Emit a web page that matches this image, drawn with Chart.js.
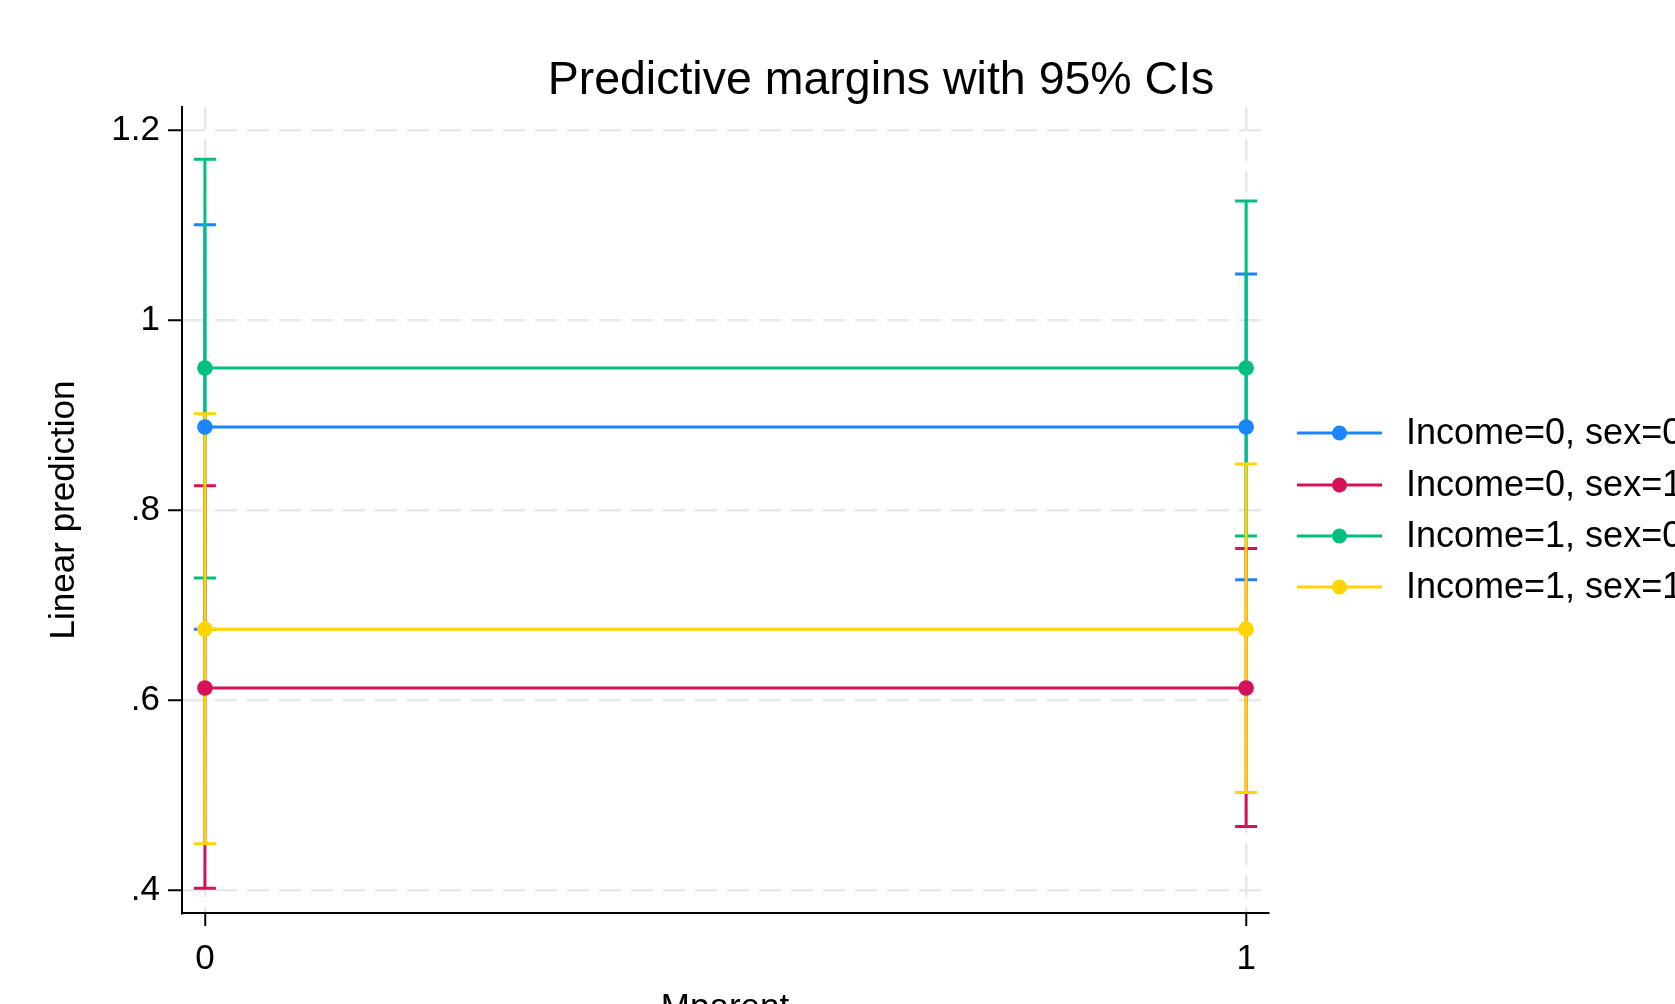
<!DOCTYPE html>
<html>
<head>
<meta charset="utf-8">
<script src="https://cdn.jsdelivr.net/npm/chart.js@4/dist/chart.umd.min.js"></script>
<style>
  html, body { margin: 0; padding: 0; background: #ffffff; overflow: hidden; }
  #wrap { width: 1675px; height: 1004px; position: relative; }
</style>
</head>
<body>
<div id="wrap"><canvas id="c" width="1675" height="1004"></canvas></div>
<script>
// ---- data ----
const categories = [0, 1];            // Mparent
const xTickLabels = ['0', '1'];
const yTickValues = [0.4, 0.6, 0.8, 1.0, 1.2];
const yTickLabels = ['.4', '.6', '.8', '1', '1.2'];

const seriesLabels = ['Income=0, sex=0', 'Income=0, sex=1', 'Income=1, sex=0', 'Income=1, sex=1'];

const margin00 = [0.888, 0.888];
const low00    = [0.675, 0.727];
const high00   = [1.101, 1.049];

const margin01 = [0.613, 0.613];
const low01    = [0.402, 0.467];
const high01   = [0.826, 0.760];

const margin10 = [0.950, 0.950];
const low10    = [0.729, 0.773];
const high10   = [1.170, 1.126];

const margin11 = [0.675, 0.675];
const low11    = [0.449, 0.503];
const high11   = [0.902, 0.849];

const titleText = 'Predictive margins with 95% CIs';
const xTitle = 'Mparent';
const yTitle = 'Linear prediction';

// ---- styling ----
const colors = ['#1a85ff', '#d41159', '#00bf7f', '#ffd400'];
const FONT = '"Liberation Sans", Arial, Helvetica, sans-serif';
Chart.defaults.font.family = FONT;
Chart.defaults.color = '#000000';

const margins = [margin00, margin01, margin10, margin11];
const lows = [low00, low01, low10, low11];
const highs = [high00, high01, high10, high11];

const datasets = seriesLabels.map((lab, k) => ({
  label: lab,
  data: categories.map((x, i) => ({ x: x, y: margins[k][i] })),
  lows: lows[k],
  highs: highs[k],
  borderColor: colors[k],
  backgroundColor: colors[k],
  pointBackgroundColor: colors[k],
  pointBorderWidth: 0,
  pointRadius: 7.8,
  borderWidth: 3,
  tension: 0,
  fill: false
}));

const errorBars = {
  id: 'errorBars',
  beforeDatasetsDraw(chart) {
    const ctx = chart.ctx;
    const xs = chart.scales.x, ys = chart.scales.y;
    ctx.save();
    chart.data.datasets.forEach(ds => {
      ctx.strokeStyle = ds.borderColor;
      ctx.lineWidth = 3;
      ctx.lineCap = 'butt';
      categories.forEach((c, i) => {
        const px = xs.getPixelForValue(c);
        const yl = ys.getPixelForValue(ds.lows[i]);
        const yh = ys.getPixelForValue(ds.highs[i]);
        ctx.beginPath();
        ctx.moveTo(px, yl); ctx.lineTo(px, yh);
        ctx.moveTo(px - 11, yl); ctx.lineTo(px + 11, yl);
        ctx.moveTo(px - 11, yh); ctx.lineTo(px + 11, yh);
        ctx.stroke();
      });
    });
    ctx.restore();
  }
};

const decorations = {
  id: 'decorations',
  afterDraw(chart) {
    const ctx = chart.ctx;
    ctx.save();
    // title
    ctx.fillStyle = '#000';
    ctx.font = '46.5px ' + FONT;
    ctx.textAlign = 'center';
    ctx.textBaseline = 'alphabetic';
    ctx.fillText(titleText, 881, 94);
    // legend
    const rows = [433, 485, 536, 587];
    chart.data.datasets.forEach((ds, k) => {
      const y = rows[k];
      ctx.strokeStyle = ds.borderColor;
      ctx.lineWidth = 3;
      ctx.beginPath();
      ctx.moveTo(1297, y); ctx.lineTo(1382, y);
      ctx.stroke();
      ctx.fillStyle = ds.borderColor;
      ctx.beginPath();
      ctx.arc(1339.5, y, 7.5, 0, Math.PI * 2);
      ctx.fill();
      ctx.fillStyle = '#000';
      ctx.font = '36px ' + FONT;
      ctx.textAlign = 'left';
      ctx.textBaseline = 'middle';
      ctx.fillText(ds.label, 1406, y + 1);
    });
    ctx.restore();
  }
};

new Chart(document.getElementById('c'), {
  type: 'line',
  data: { datasets: datasets },
  options: {
    responsive: false,
    animation: false,
    layout: { padding: { top: 107, right: 407, left: 0, bottom: 0 } },
    plugins: { legend: { display: false }, title: { display: false }, tooltip: { enabled: false } },
    scales: {
      x: {
        type: 'linear',
        min: -0.022,
        max: 1.021,
        afterBuildTicks: s => { s.ticks = categories.map(v => ({ value: v })); },
        afterFit: s => { s.height = 91; },
        ticks: {
          callback: (v, i) => xTickLabels[i],
          font: { size: 35 },
          color: '#000',
          padding: 12,
          maxRotation: 0
        },
        grid: {
          color: '#e8e8e8',
          lineWidth: 2.5,
          tickColor: '#000',
          tickWidth: 2,
          tickLength: 13,
          drawTicks: true
        },
        border: { display: true, color: '#000', width: 2, dash: [22, 10] },
        title: {
          display: true,
          text: xTitle,
          font: { size: 35 },
          color: '#000',
          padding: { top: 0, bottom: -25 }
        }
      },
      y: {
        type: 'linear',
        min: 0.376,
        max: 1.225,
        afterBuildTicks: s => { s.ticks = yTickValues.map(v => ({ value: v })); },
        afterFit: s => { s.width = 182; },
        ticks: {
          callback: (v, i) => yTickLabels[i],
          font: { size: 35 },
          color: '#000',
          padding: 8
        },
        grid: {
          color: '#e8e8e8',
          lineWidth: 2.5,
          tickColor: '#000',
          tickWidth: 2,
          tickLength: 14,
          drawTicks: true
        },
        border: { display: true, color: '#000', width: 2, dash: [22, 10] },
        title: {
          display: true,
          text: yTitle,
          font: { size: 35 },
          color: '#000',
          padding: { top: 43, bottom: 0 }
        }
      }
    }
  },
  plugins: [errorBars, decorations]
});
</script>
</body>
</html>
